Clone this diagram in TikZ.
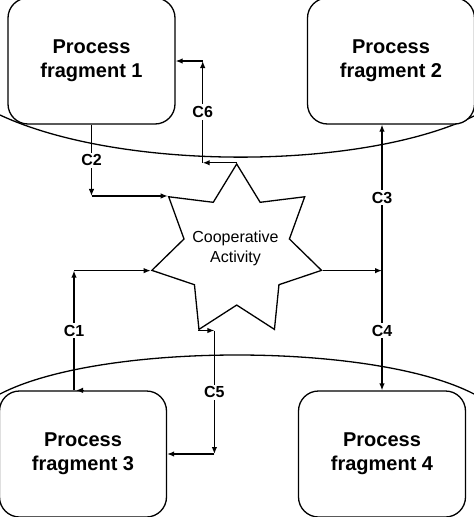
\documentclass[tikz,border=0pt]{standalone}
\usepackage{fontspec}
\setmainfont{Liberation Sans}
\usetikzlibrary{arrows.meta,shapes,positioning}

\begin{document}
\begin{tikzpicture}[x=1pt, y=-1pt, line width=1.3pt,
    >={Latex[length=7pt,width=5.5pt]},
    fragment/.style={draw, fill=white, rounded corners=20pt, minimum width=167pt,
      minimum height=126pt, align=center, font=\fontsize{20}{24}\selectfont\bfseries},
    coopstar/.style={draw, fill=white, star, star points=7, star point ratio=1.61,
      minimum size=174pt, inner sep=0pt},
    lab/.style={fill=white, inner sep=2pt, font=\fontsize{16}{18}\selectfont\bfseries}]
           \useasboundingbox (0,0) rectangle (474,517);
           % boundaries
           \draw (0,115) .. controls (120,171) and (360,171) .. (474,116);
           \draw (0,394) .. controls (100,342) and (374,342) .. (474,394);
           % fragments and activity
           \node [fragment] (frag1) at (91.5,61) {Process\\fragment 1};
           \node [fragment] (frag2) at (391,61) {Process\\fragment 2};
           \node [fragment] (frag3) at (83,454) {Process\\fragment 3};
           \node [fragment] (frag4) at (382,454) {Process\\fragment 4};
           \node [coopstar] (coop) at (236.7,251) {};
           \node [align=center, font=\fontsize{16}{20}\selectfont] (cooptext) at (235.5,248)
                 {Cooperative\\Activity};
           % C1
           \draw [->] ([xshift=1pt]frag3.north) -- ([xshift=-7pt]frag3.north);
           \draw [->] ([xshift=-9pt]frag3.north) -- ([xshift=-9pt]frag3.north |- coop.outer point 3)
                 node [lab, midway] {C1};
           \draw [->] ([xshift=-9pt]frag3.north |- coop.outer point 3) -- (coop.outer point 3);
           % C2
           \draw [->] (frag1.south) -- (frag1.south |- coop.outer point 2) node [lab, midway] {C2};
           \draw [->] (frag1.south |- coop.outer point 2) -- (coop.outer point 2);
           % C3 and C4
           \draw [->] (coop.outer point 6) -- (coop.outer point 6 -| frag4.north) coordinate (k34);
           \draw [->] (k34) -- (k34 |- frag2.south) node [lab, midway] {C3};
           \draw [->] (k34) -- (frag4.north) node [lab, midway] {C4};
           % C5
           \draw [->] (coop.outer point 4) -- ++(16,0) coordinate (k5);
           \draw [->] (k5) -- (k5 |- frag3.east) node [lab, midway] {C5};
           \draw [->] (k5 |- frag3.east) -- (frag3.east);
           % C6
           \draw [->] (coop.outer point 1) -- ++(-34,0) coordinate (k6);
           \draw [->] (k6) -- (k6 |- frag1.east) node [lab, midway] {C6};
           \draw [->] (k6 |- frag1.east) -- (frag1.east);
      \end{tikzpicture}
\end{document}
